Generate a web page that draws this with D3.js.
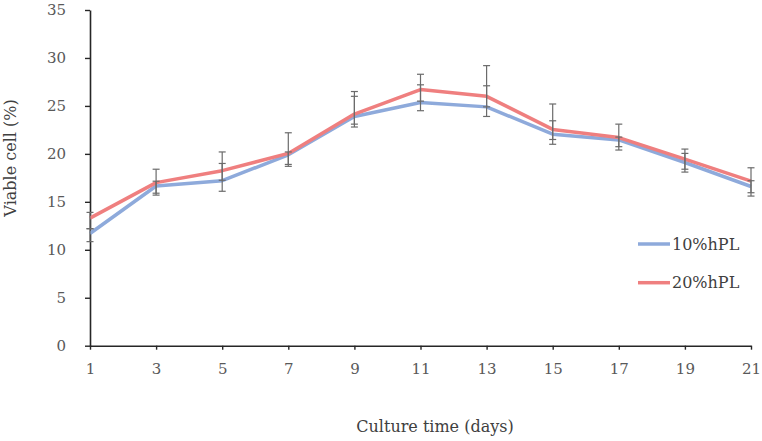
<!DOCTYPE html>
<html><head><meta charset="utf-8">
<script src="https://cdn.jsdelivr.net/npm/d3@7"></script>
<style>body{margin:0;background:#fff;} svg{display:block;}</style>
</head><body>
<svg id="c" width="762" height="441"></svg>
<script>
const days = [1,3,5,7,9,11,13,15,17,19,21];
const yTicks = [0,5,10,15,20,25,30,35];
const seriesNames = ["10%hPL","20%hPL"];
const hpl10 = [11.7,16.65,17.2,19.9,23.9,25.35,24.9,22.05,21.45,19.1,16.6];
const hpl20 = [13.3,17.0,18.25,20.05,24.15,26.7,26.0,22.55,21.7,19.45,17.15];
const hpl10ErrUp = [0.5,0.5,1.8,0.3,2.1,1.85,2.2,1.4,0.3,0.95,0.6];
const hpl10ErrDown = [0.85,0.95,1.1,1.0,1.1,0.85,1.0,1.05,1.05,1.0,1.0];
const hpl20ErrUp = [0.6,1.4,1.95,2.15,2.35,1.6,3.2,2.65,1.4,1.05,1.4];
const hpl20ErrDown = [1.1,1.1,1.0,1.35,1.05,1.2,1.1,1.05,0.95,1.05,1.2];
const colors = ["#8eaadb","#ef7f7f"];

const svg = d3.select("#c");
const x = d3.scaleLinear().domain([1,21]).range([90,751]);
const y = d3.scaleLinear().domain([0,35]).range([345.7,10]);
const font = "'DejaVu Serif', serif";

// axes
const xAxis = svg.append("g").attr("transform","translate(0,"+y(0)+")")
  .call(d3.axisBottom(x).tickValues(days).tickFormat(d3.format("d")).tickSize(4).tickSizeOuter(0));
const yAxis = svg.append("g").attr("transform","translate("+x(1)+",0)")
  .call(d3.axisLeft(y).tickValues(yTicks).tickSize(5).tickSizeOuter(0));
[xAxis,yAxis].forEach(g=>{
  g.select(".domain").attr("stroke","#262626").attr("stroke-width",1.6);
  g.selectAll(".tick line").attr("stroke","#262626").attr("stroke-width",1.4);
  g.selectAll(".tick text").attr("fill","#595959").style("font-family",font).style("font-size","15px");
});
xAxis.selectAll(".tick text").attr("dy","0").attr("y",28);
yAxis.selectAll(".tick text").attr("x",-24);

// lines
const series = [
  {vals:hpl10, up:hpl10ErrUp, dn:hpl10ErrDown, color:colors[0]},
  {vals:hpl20, up:hpl20ErrUp, dn:hpl20ErrDown, color:colors[1]}
];
const line = d3.line().x((d,i)=>x(days[i])).y(d=>y(d));
series.forEach(s=>{
  svg.append("path").datum(s.vals).attr("d",line).attr("fill","none")
    .attr("stroke",s.color).attr("stroke-width",3.5).attr("stroke-linejoin","round");
});
// error bars
series.forEach(s=>{
  const g = svg.append("g").attr("stroke","#6b6b6b").attr("stroke-width",1.2);
  s.vals.forEach((v,i)=>{
    const cx = x(days[i]), t = y(v+s.up[i]), b = y(v-s.dn[i]);
    g.append("line").attr("x1",cx).attr("x2",cx).attr("y1",t).attr("y2",b);
    g.append("line").attr("x1",cx-3.5).attr("x2",cx+3.5).attr("y1",t).attr("y2",t);
    g.append("line").attr("x1",cx-3.5).attr("x2",cx+3.5).attr("y1",b).attr("y2",b);
  });
});

// axis titles
svg.append("text").attr("x",435).attr("y",432).attr("text-anchor","middle")
  .attr("fill","#404040").style("font-family",font).style("font-size","16px").text("Culture time (days)");
svg.append("text").attr("transform","translate(16,158) rotate(-90)").attr("text-anchor","middle")
  .attr("fill","#404040").style("font-family",font).style("font-size","16px").text("Viable cell (%)");

// legend
const leg = svg.append("g");
seriesNames.forEach((n,i)=>{
  const ly = 244 + i*38.7;
  leg.append("line").attr("x1",638).attr("x2",670).attr("y1",ly).attr("y2",ly)
    .attr("stroke",colors[i]).attr("stroke-width",3.5);
  leg.append("text").attr("x",672).attr("y",ly+5.5).attr("fill","#404040")
    .style("font-family",font).style("font-size","16px").text(n);
});
</script>
</body></html>
